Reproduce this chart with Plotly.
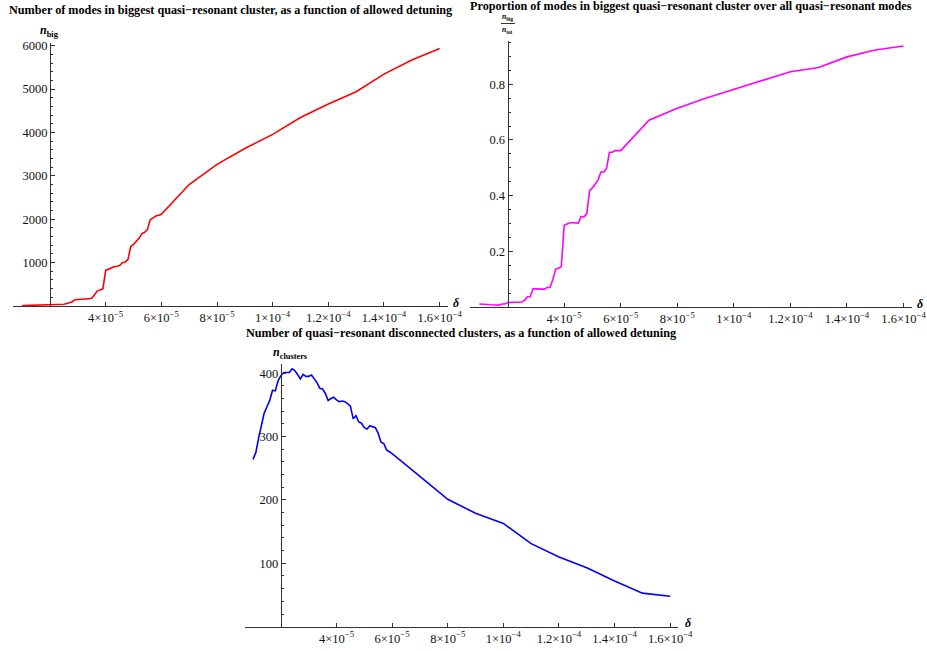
import plotly.graph_objects as go

W, H = 927, 651

# detuning delta, in units of 1e-5
delta = [1.0, 1.1, 1.2, 1.3, 1.4, 1.5, 1.6, 1.7, 1.8, 1.9,
         2.0, 2.1, 2.2, 2.3, 2.4, 2.5, 2.6, 2.7, 2.8, 2.9,
         3.0, 3.1, 3.2, 3.3, 3.4, 3.5, 3.6, 3.7, 3.8, 3.9,
         4.0, 4.1, 4.2, 4.3, 4.4, 4.5, 4.6, 4.7, 4.8, 4.9,
         5.0, 5.1, 5.2, 5.3, 5.4, 5.5, 5.6, 5.7, 5.8, 5.9,
         6.0, 7, 8, 9, 10, 11, 12, 13, 14, 15, 16]

n_big = [10, 12, 14, 15, 17, 18, 20, 21, 23, 25,
         28, 30, 31, 33, 36, 40, 60, 85, 100, 145,
         155, 157, 160, 162, 168, 178, 260, 350, 370, 395,
         820, 850, 885, 905, 915, 930, 1000, 1015, 1070, 1370,
         1420, 1490, 1560, 1670, 1700, 1760, 1990, 2030, 2075, 2090,
         2115, 2800, 3265, 3630, 3955, 4345, 4655, 4940, 5345, 5670, 5935]

ratio = [0.012, 0.012, 0.011, 0.010, 0.009, 0.009, 0.008, 0.008, 0.012, 0.012,
         0.017, 0.018, 0.018, 0.018, 0.018, 0.019, 0.025, 0.038, 0.038, 0.066,
         0.066, 0.066, 0.065, 0.065, 0.071, 0.071, 0.100, 0.137, 0.140, 0.146,
         0.294, 0.298, 0.303, 0.303, 0.302, 0.302, 0.326, 0.324, 0.336, 0.419,
         0.428, 0.442, 0.457, 0.485, 0.485, 0.498, 0.556, 0.556, 0.562, 0.562,
         0.562, 0.671, 0.714, 0.750, 0.782, 0.815, 0.845, 0.860, 0.898, 0.923, 0.937]

n_clusters = [264, 275, 298, 320, 337, 347, 357, 373, 372, 388,
              396, 401, 401, 401, 407, 404, 398, 391, 398, 395,
              395, 397, 391, 385, 376, 375, 368, 357, 360, 362,
              358, 355, 356, 355, 352, 348, 328, 333, 323, 321,
              314, 312, 317, 315, 314, 305, 291, 289, 279, 276,
              273, 237, 201, 179, 163, 131, 110, 93, 72, 53, 48]

x_tickvals = [4, 6, 8, 10, 12, 14, 16]
x_ticktext = ["4×10<sup>−5</sup>", "6×10<sup>−5</sup>", "8×10<sup>−5</sup>",
              "1×10<sup>−4</sup>", "1.2×10<sup>−4</sup>", "1.4×10<sup>−4</sup>",
              "1.6×10<sup>−4</sup>"]
y1_ticks = [1000, 2000, 3000, 4000, 5000, 6000]
y2_ticks = [0.2, 0.4, 0.6, 0.8]
y2_text = ["0.2", "0.4", "0.6", "0.8"]
y3_ticks = [100, 200, 300, 400]

titles = ["Number of modes in biggest quasi−resonant cluster, as a function of allowed detuning",
          "Proportion of modes in biggest quasi−resonant cluster over all quasi−resonant modes",
          "Number of quasi−resonant disconnected clusters, as a function of allowed detuning"]

FONT = "Liberation Serif"
AX = "#333333"
TICKSZ = 12.5
TITLESZ = 12.2
origin_x = 2.0

# panel geometry in pixels: (left, right, bottom, top), x range, y range
panels = [
    dict(px=(13, 448, 306, 43), xr=(0.67, 16.3), yr=(0, 6062)),
    dict(px=(470, 912, 307.3, 41), xr=(0.67, 16.3), yr=(0, 0.955)),
    dict(px=(245, 678, 626.7, 364.3), xr=(0.71, 16.28), yr=(0, 414)),
]

fig = go.Figure()
series = [(n_big, "#ff0000", "x", "y"), (ratio, "#ff00ff", "x2", "y2"),
          (n_clusters, "#0000ff", "x3", "y3")]
for vals, col, xa, ya in series:
    fig.add_trace(go.Scatter(x=delta, y=vals, mode="lines", xaxis=xa, yaxis=ya,
                             line=dict(color=col, width=1.6), showlegend=False,
                             hoverinfo="skip"))

yticks = [(y1_ticks, [str(v) for v in y1_ticks], 200),
          (y2_ticks, y2_text, 0.05),
          (y3_ticks, [str(v) for v in y3_ticks], 20)]

layout = {}
for i, p in enumerate(panels):
    l, r, b, t = p["px"]
    xd = [l / W, r / W]
    yd = [1 - b / H, 1 - t / H]
    x0, x1 = p["xr"]
    pos = xd[0] + (origin_x - x0) / (x1 - x0) * (xd[1] - xd[0])
    sfx = "" if i == 0 else str(i + 1)
    tv, tt, mdt = yticks[i]
    layout["xaxis" + sfx] = dict(domain=xd, range=list(p["xr"]), anchor="y" + sfx,
                                 automargin=False,
                                 showgrid=False, zeroline=False, showline=True,
                                 linecolor=AX, linewidth=1, ticks="inside", ticklen=4,
                                 tickcolor=AX, tickmode="array", tickvals=x_tickvals,
                                 ticktext=x_ticktext,
                                 tickfont=dict(family=FONT, size=TICKSZ, color="#111"))
    layout["yaxis" + sfx] = dict(domain=yd, range=list(p["yr"]), anchor="free",
                                 automargin=False,
                                 position=pos, showgrid=False, zeroline=False,
                                 showline=True, linecolor=AX, linewidth=1,
                                 ticks="inside", ticklen=4, tickcolor=AX,
                                 tickmode="array", tickvals=tv, ticktext=tt,
                                 minor=dict(tickmode="linear", tick0=0, dtick=mdt,
                                            ticks="inside", ticklen=2, tickcolor=AX),
                                 tickfont=dict(family=FONT, size=TICKSZ, color="#111"))

fig.update_layout(template="none", width=W, height=H,
                  margin=dict(l=0, r=0, t=0, b=0, autoexpand=False),
                  paper_bgcolor="white", plot_bgcolor="white", **layout)

def ann(text, xpx, ypx, size=11, xanchor="center"):
    fig.add_annotation(text=text, x=xpx / W, y=1 - ypx / H, xref="paper", yref="paper",
                       showarrow=False, xanchor=xanchor, yanchor="middle",
                       font=dict(family=FONT, size=size, color="black"))

ann("<b>" + titles[0] + "</b>", 230, 10, size=TITLESZ)
ann("<b>" + titles[1] + "</b>", 691, 6, size=TITLESZ)
ann("<b>" + titles[2] + "</b>", 461, 333, size=TITLESZ)

ann("<b><i>n</i></b><sub><b>big</b></sub>", 49, 31, size=12)
ann("<b><i>n</i></b><sub><b>clusters</b></sub>", 290, 353, size=12)
ann("<b><i>n</i></b><sub><b>big</b></sub>", 508, 17, size=7.5)
ann("<b><i>n</i></b><sub><b>tot</b></sub>", 508, 30, size=7.5)
fig.add_shape(type="line", xref="paper", yref="paper", x0=501 / W, x1=515 / W,
              y0=1 - 23.5 / H, y1=1 - 23.5 / H, line=dict(color="black", width=0.8))

ann("<b><i>δ</i></b>", 456, 303, size=12)
ann("<b><i>δ</i></b>", 920, 304, size=12)
ann("<b><i>δ</i></b>", 688, 623, size=12)

fig.write_html("out.html", config={"displayModeBar": False},
               post_script="document.body.style.margin='0px';"
                           "document.body.style.overflow='hidden';")
